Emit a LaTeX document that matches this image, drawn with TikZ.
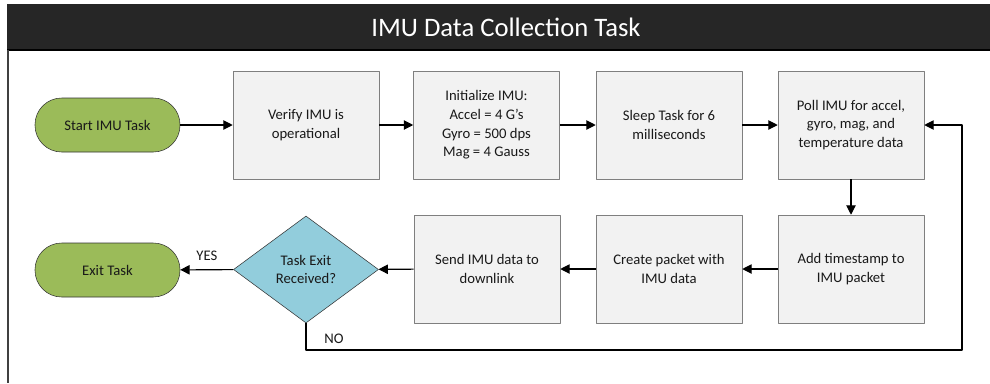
\documentclass[tikz,border=0pt]{standalone}
\usepackage{fontspec}
\setmainfont{Carlito}
\usepackage{tikz}
\usetikzlibrary{shapes,arrows.meta,positioning,calc}

\definecolor{titlebar}{HTML}{262626}
\definecolor{framegray}{HTML}{404040}
\definecolor{termgreen}{HTML}{9BBB59}
\definecolor{decblue}{HTML}{92CDDC}
\definecolor{boxfill}{HTML}{F2F2F2}
\definecolor{boxline}{HTML}{7F7F7F}

\begin{document}
\begin{tikzpicture}[x=0.75pt, y=-0.75pt, line join=round,
  every node/.style={font=\fontsize{11}{14}\selectfont, text=black!90},
  process/.style={draw=boxline, fill=boxfill, minimum width=109.5pt, minimum height=81pt, align=center, inner sep=2pt},
  terminal/.style={draw=black!80, fill=termgreen, rounded corners=20pt, minimum width=108.75pt, minimum height=40.5pt},
  decision/.style={diamond, draw=black!80, fill=decblue, minimum width=108.75pt, minimum height=80.25pt, aspect=1.36, inner sep=0pt, align=center},
  flow/.style={thick, -{Triangle[length=7pt, width=7pt]}}]

\useasboundingbox (0,0) rectangle (990,383);

% frame and title
\fill[titlebar] (7,4) rectangle (990,50);
\draw[black, line width=1pt] (7,50) -- (990,50);
\draw[framegray, line width=1.5pt] (8,50) -- (8,383);
\node[text=white, font=\fontsize{20}{24}\selectfont] (title) at (506,27) {IMU Data Collection Task};

% top row
\node[terminal] (start) at (107.5,125) {Start IMU Task};
\node[process] (verify) at (306,125) {Verify IMU is\\operational};
\node[process] (init) at (486.5,125) {Initialize IMU:\\Accel = 4 G’s\\Gyro = 500 dps\\Mag = 4 Gauss};
\node[process] (sleep) at (669,125) {Sleep Task for 6\\milliseconds};
\node[process] (poll) at (851,125) {Poll IMU for accel,\\gyro, mag, and\\temperature data};

% bottom row
\node[process] (stamp) at (851,269) {Add timestamp to\\IMU packet};
\node[process] (packet) at (669,269) {Create packet with\\IMU data};
\node[process] (send) at (487,269) {Send IMU data to\\downlink};
\node[decision] (exitq) at (306,269.5) {Task Exit\\Received?};
\node[terminal] (exittask) at (107.5,270) {Exit Task};

\draw[flow] (start) -- (verify);
\draw[flow] (verify) -- (init);
\draw[flow] (init) -- (sleep);
\draw[flow] (sleep) -- (poll);
\draw[flow] (poll) -- (stamp);
\draw[flow] (stamp) -- (packet);
\draw[flow] (packet) -- (send);
\draw[flow] (send) -- (exitq);
\draw[flow] (exitq) -- node[above=3pt] (yeslabel) {YES} (exittask);

% loop back when no exit
\coordinate (loopbot) at (962,350);
\draw[flow] (exitq.south) |- (loopbot) |- (poll.east);
\node (nolabel) at (334,339) {NO};

\end{tikzpicture}
\end{document}
